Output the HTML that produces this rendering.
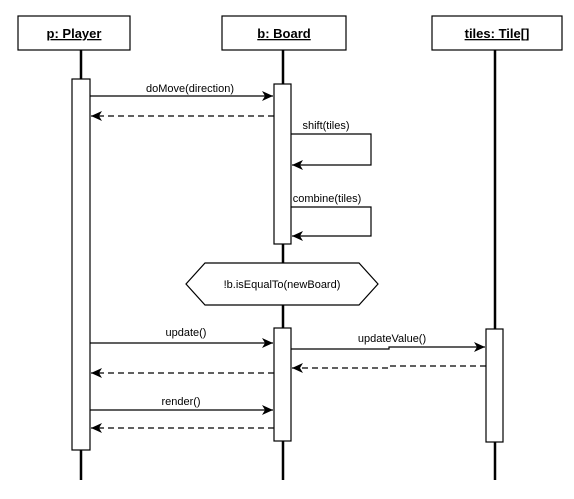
<!DOCTYPE html><html><head><style>body{margin:0;background:#fff}svg text{font-family:"Liberation Sans",sans-serif}</style></head><body>
<svg width="574" height="494" viewBox="0 0 574 494" xmlns="http://www.w3.org/2000/svg">
<defs><marker id="a" markerWidth="12" markerHeight="10" refX="11" refY="5" orient="auto" markerUnits="userSpaceOnUse"><path d="M0,0 L11,5 L0,10 L3,5 Z" fill="#000"/></marker></defs>
<g stroke="#000" stroke-width="2.5"><line x1="81" y1="50" x2="81" y2="480"/><line x1="283" y1="50" x2="283" y2="480"/><line x1="495" y1="50" x2="495" y2="480"/></g>
<g fill="#fff" stroke="#000" stroke-width="1.2">
<rect x="18" y="16" width="112" height="34"/><rect x="222" y="16" width="124" height="34"/><rect x="432" y="16" width="130" height="34"/>
<rect x="72" y="79" width="18" height="371"/><rect x="274" y="84" width="17" height="160"/><rect x="274" y="328" width="17" height="113"/><rect x="486" y="329" width="17" height="113"/>
<polygon points="205,263 359,263 378,284 359,305 205,305 186,284"/></g>
<g font-size="13" font-weight="bold" text-anchor="middle" text-decoration="underline"><text x="74" y="38">p: Player</text><text x="284" y="38">b: Board</text><text x="497" y="38">tiles: Tile[]</text></g>
<g font-size="11" text-anchor="middle"><text x="190" y="92">doMove(direction)</text><text x="326" y="129">shift(tiles)</text><text x="327" y="202">combine(tiles)</text><text x="282" y="288">!b.isEqualTo(newBoard)</text><text x="186" y="336">update()</text><text x="392" y="342">updateValue()</text><text x="181" y="405">render()</text></g>
<g stroke="#000" stroke-width="1.2" fill="none">
<line x1="90" y1="96" x2="273" y2="96" marker-end="url(#a)"/>
<line x1="274" y1="116" x2="91" y2="116" stroke-dasharray="6,4" marker-end="url(#a)"/>
<polyline points="291,134 371,134 371,165 292,165" marker-end="url(#a)"/>
<polyline points="291,207 371,207 371,236 292,236" marker-end="url(#a)"/>
<line x1="90" y1="343" x2="273" y2="343" marker-end="url(#a)"/>
<polyline points="291,349 389,349 389,347 485,347" marker-end="url(#a)"/>
<polyline points="486,366 389,366 389,368 292,368" stroke-dasharray="6,4" marker-end="url(#a)"/>
<line x1="274" y1="373" x2="91" y2="373" stroke-dasharray="6,4" marker-end="url(#a)"/>
<line x1="90" y1="410" x2="273" y2="410" marker-end="url(#a)"/>
<line x1="274" y1="428" x2="91" y2="428" stroke-dasharray="6,4" marker-end="url(#a)"/>
</g></svg></body></html>
